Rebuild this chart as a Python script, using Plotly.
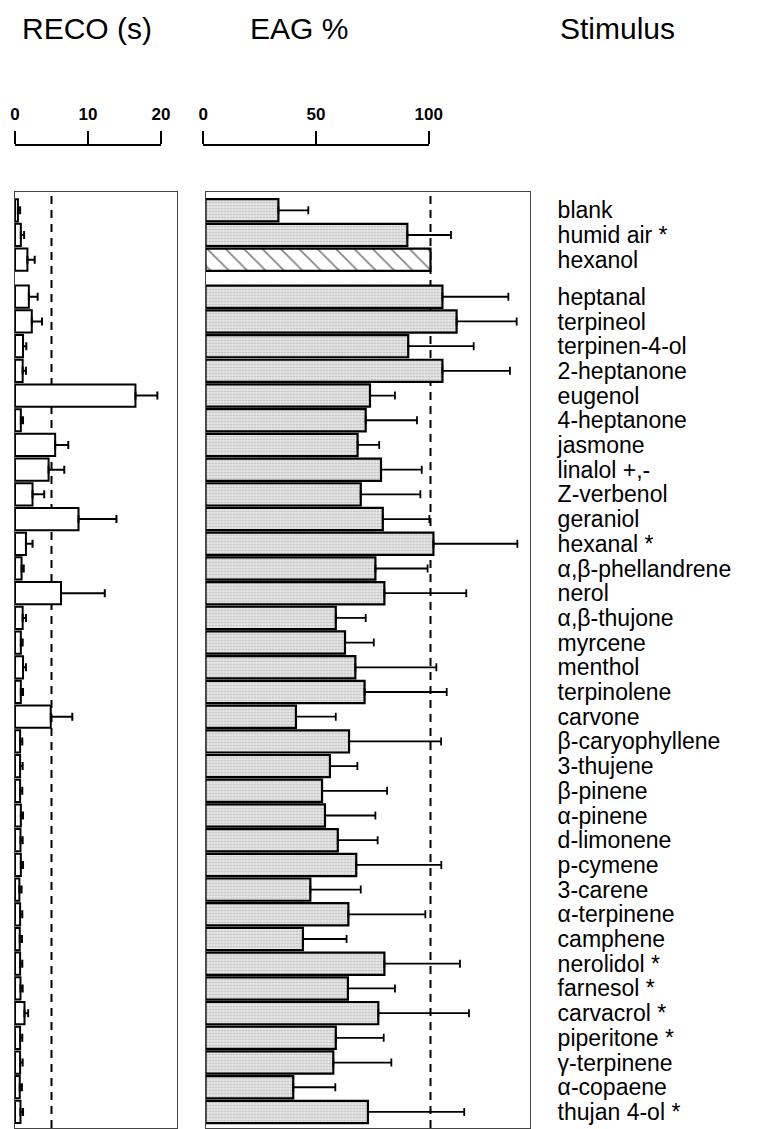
import plotly.graph_objects as go

# ---------------- data ----------------
stimuli = ["blank", "humid air *", "hexanol",
           "heptanal", "terpineol", "terpinen-4-ol", "2-heptanone", "eugenol",
           "4-heptanone", "jasmone", "linalol +,-", "Z-verbenol", "geraniol",
           "hexanal *", "α,β-phellandrene", "nerol", "α,β-thujone", "myrcene",
           "menthol", "terpinolene", "carvone", "β-caryophyllene", "3-thujene",
           "β-pinene", "α-pinene", "d-limonene", "p-cymene", "3-carene",
           "α-terpinene", "camphene", "nerolidol *", "farnesol *", "carvacrol *",
           "piperitone *", "γ-terpinene", "α-copaene", "thujan 4-ol *"]

reco_mean = [0.4, 0.8, 1.7,
             1.9, 2.3, 1.1, 1.05, 16.5,
             0.8, 5.5, 4.6, 2.4, 8.7,
             1.5, 0.9, 6.3, 1.05, 0.8,
             1.1, 0.8, 4.9, 0.7, 0.7,
             0.7, 0.8, 0.75, 0.8, 0.6,
             0.7, 0.65, 0.7, 0.75, 1.3,
             0.7, 0.7, 0.65, 0.75]
reco_err = [0.3, 0.45, 1.0,
            1.2, 1.4, 0.45, 0.45, 3.0,
            0.3, 1.8, 2.15, 1.6, 5.2,
            0.9, 0.3, 6.0, 0.45, 0.25,
            0.4, 0.3, 2.95, 0.3, 0.35,
            0.3, 0.3, 0.3, 0.3, 0.3,
            0.3, 0.3, 0.3, 0.3, 0.5,
            0.3, 0.35, 0.3, 0.35]

eag_mean = [32.4, 89.7, 100.0,
            105.3, 111.6, 90.1, 105.3, 73.1,
            71.2, 67.6, 78.0, 69.0, 78.8,
            101.3, 75.5, 79.5, 57.9, 62.0,
            66.6, 70.7, 40.2, 63.8, 55.3,
            51.8, 53.1, 58.8, 67.0, 46.6,
            63.5, 43.3, 79.5, 63.3, 76.8,
            57.9, 56.8, 39.0, 72.2]
eag_err = [13.3, 19.4, None,
           29.3, 26.7, 29.1, 30.0, 11.1,
           22.8, 9.6, 18.1, 26.5, 20.7,
           37.3, 23.2, 36.4, 13.3, 12.8,
           36.0, 36.5, 17.7, 40.9, 12.2,
           28.9, 22.4, 17.7, 37.8, 22.4,
           34.2, 19.4, 33.6, 20.9, 40.3,
           21.3, 25.8, 18.7, 42.8]

reference_name = "hexanol"
reco_ticks = [0, 10, 20]
eag_ticks = [0, 50, 100]
reco_threshold = 5
eag_threshold = 100

# ---------------- geometry ----------------
W, H = 763, 1129
FONT = "Liberation Sans, Arial, sans-serif"

def px_x(p):
    return p / W

def px_y(p):
    return 1 - p / H

# row positions: a half-row gap after the three control stimuli
pos = [i if i < 3 else i + 0.5 for i in range(len(stimuli))]
ref_idx = stimuli.index(reference_name)

box_top, box_bot = 192, 1128
y_range = [37.15, -0.74]

reco_x0, reco_x1 = 15, 177
reco_scale = 7.3
eag_x0, eag_x1 = 205.5, 530
eag_scale = 2.25

fig = go.Figure()

# RECO bars
fig.add_trace(go.Bar(
    y=pos, x=reco_mean, orientation="h", xaxis="x", yaxis="y",
    marker=dict(color="white", line=dict(color="black", width=2)),
    error_x=dict(type="data", array=reco_err, arrayminus=[0] * len(reco_err),
                 symmetric=False, color="black", thickness=2, width=4),
    showlegend=False, hoverinfo="x+y"))

# EAG bars (stippled)
eag_main = [v if i != ref_idx else None for i, v in enumerate(eag_mean)]
fig.add_trace(go.Bar(
    y=pos, x=eag_main, orientation="h", xaxis="x2", yaxis="y2",
    marker=dict(color="#e8e8e8", line=dict(color="black", width=2.2),
                pattern=dict(shape=".", fgcolor="#8a8a8a", size=3, solidity=0.3)),
    error_x=dict(type="data", array=[e if e is not None else 0 for e in eag_err],
                 arrayminus=[0] * len(eag_err), symmetric=False,
                 color="black", thickness=1.8, width=4),
    showlegend=False))

# reference (hexanol) bar, hatched
fig.add_trace(go.Bar(
    y=[pos[ref_idx]], x=[eag_mean[ref_idx]], orientation="h", xaxis="x2", yaxis="y2",
    marker=dict(color="white", line=dict(color="black", width=2.2),
                pattern=dict(shape="\\", fgcolor="black", bgcolor="white",
                             size=13, solidity=0.12)),
    showlegend=False))

# invisible carriers so that the two scale axes are drawn
fig.add_trace(go.Scatter(x=reco_ticks, y=[pos[0]] * len(reco_ticks), xaxis="x3", yaxis="y",
                         mode="markers", marker=dict(opacity=0), hoverinfo="skip",
                         showlegend=False))
fig.add_trace(go.Scatter(x=eag_ticks, y=[pos[0]] * len(eag_ticks), xaxis="x4", yaxis="y2",
                         mode="markers", marker=dict(opacity=0), hoverinfo="skip",
                         showlegend=False))

box_line = dict(showline=True, mirror=True, linecolor="#444", linewidth=1,
                showgrid=False, zeroline=False, ticks="", fixedrange=True)

scale_axis = dict(anchor="free", position=px_y(145), side="top",
                  tickmode="array", ticks="outside", ticklen=13, tickwidth=2,
                  tickcolor="black", showline=True, linewidth=2, linecolor="black",
                  showgrid=False, zeroline=False, ticklabelstandoff=4,
                  tickfont=dict(size=17, family=FONT, weight="bold", color="black"),
                  fixedrange=True)

fig.update_layout(
    width=W, height=H,
    margin=dict(l=0, r=0, t=0, b=0, autoexpand=False),
    paper_bgcolor="white", plot_bgcolor="rgba(0,0,0,0)",
    bargap=0.1, barmode="overlay",
    font=dict(family=FONT, color="black"),
    xaxis=dict(domain=[px_x(reco_x0), px_x(reco_x1)],
               range=[0, (reco_x1 - reco_x0) / reco_scale],
               anchor="y", showticklabels=False, **box_line),
    yaxis=dict(domain=[px_y(box_bot), px_y(box_top)], range=y_range,
               anchor="x", showticklabels=False, **box_line),
    xaxis2=dict(domain=[px_x(eag_x0), px_x(eag_x1)],
                range=[0, (eag_x1 - eag_x0) / eag_scale],
                anchor="y2", showticklabels=False, **box_line),
    yaxis2=dict(domain=[px_y(box_bot), px_y(box_top)], range=y_range,
                anchor="x2", side="right", tickmode="array",
                tickvals=pos, ticktext=stimuli, ticklabelstandoff=22,
                tickfont=dict(size=23, family=FONT, color="black"),
                **box_line),
    xaxis3=dict(domain=[px_x(15), px_x(161)], range=[0, 20],
                tickvals=reco_ticks, **scale_axis),
    xaxis4=dict(domain=[px_x(203.3), px_x(428.7)], range=[0, 100],
                tickvals=eag_ticks, **scale_axis),
)

# threshold dashed lines
fig.add_shape(type="line", xref="x", yref="y domain", x0=reco_threshold, x1=reco_threshold,
              y0=0, y1=1, line=dict(color="black", width=2, dash="8px,6px"), layer="below")
fig.add_shape(type="line", xref="x2", yref="y2 domain", x0=eag_threshold, x1=eag_threshold,
              y0=0, y1=1, line=dict(color="black", width=2, dash="8px,6px"), layer="below")

# headers
for text, xp in [("RECO (s)", 20), ("EAG %", 248), ("Stimulus", 558)]:
    fig.add_annotation(text=text, xref="paper", yref="paper", x=px_x(xp), y=px_y(28),
                       xanchor="left", yanchor="middle", showarrow=False,
                       font=dict(size=30, family=FONT, color="black"))

fig.write_html("out.html", config={"displayModeBar": False},
               post_script="document.body.style.margin='0';document.body.style.padding='0';")
